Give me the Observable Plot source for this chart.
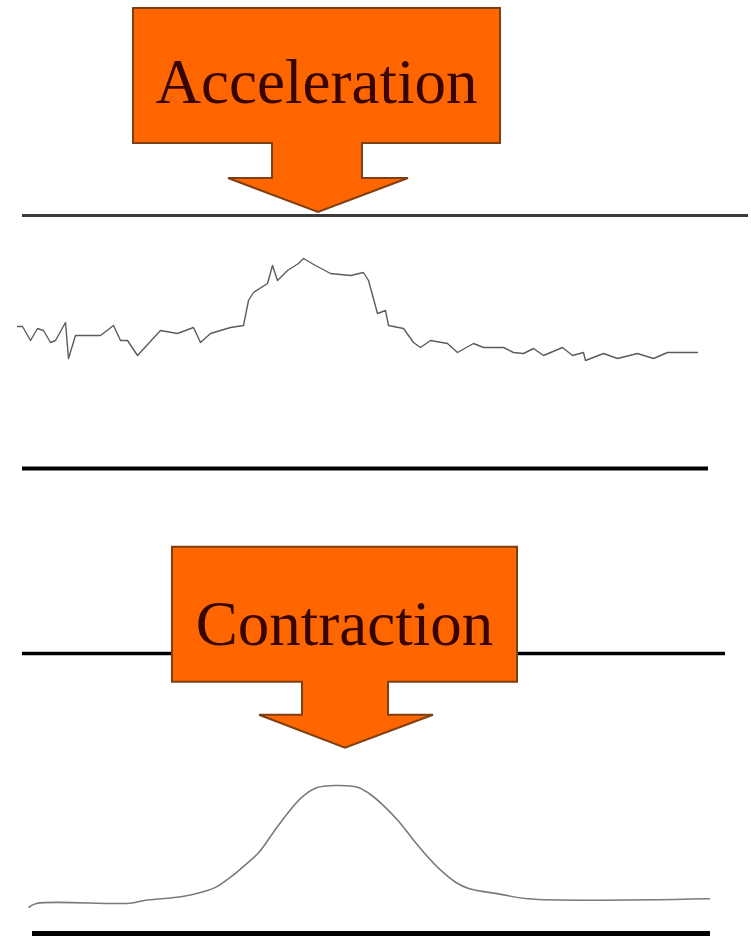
<!DOCTYPE html>
<html>
<head>
<meta charset="utf-8">
<script src="https://cdn.jsdelivr.net/npm/d3@7"></script>
<script src="https://cdn.jsdelivr.net/npm/@observablehq/plot@0.6"></script>
<style>
  html, body { margin: 0; padding: 0; background: #fff; }
  #chart svg { display: block; }
</style>
</head>
<body>
<div id="chart"></div>
<script>
// ---------- data ----------
// Acceleration trace (time in ms, amplitude in arbitrary units)
const accelTime = [0, 10, 26, 40, 52, 66, 76, 96, 102, 116, 166, 192, 206, 220, 240, 262, 286, 320, 352, 366, 386, 426, 452, 462, 472, 500, 510, 520, 540, 562, 572, 596, 626, 666, 692, 702, 720, 736, 742, 772, 792, 806, 826, 860, 880, 912, 932, 972, 992, 1012, 1032, 1052, 1090, 1110, 1132, 1136, 1172, 1200, 1240, 1272, 1300, 1360];
const accelValue = [4.4, 4.4, 3.0, 4.2, 4.0, 2.8, 3.0, 4.8, 1.2, 3.5, 3.5, 4.5, 3.0, 3.0, 1.5, 2.7, 4.0, 3.7, 4.3, 2.8, 3.7, 4.3, 4.5, 7.0, 7.8, 8.7, 10.5, 9.0, 10.0, 10.7, 11.2, 10.5, 9.7, 9.5, 9.8, 9.0, 5.7, 6.0, 4.5, 4.2, 2.8, 2.3, 3.0, 2.7, 1.8, 2.7, 2.3, 2.3, 1.8, 1.7, 2.2, 1.5, 2.3, 1.5, 1.8, 1.0, 1.7, 1.2, 1.7, 1.2, 1.8, 1.8];

// Contraction force trace
const forceTime = [23, 38, 224, 254, 330, 368, 397, 426, 454, 483, 512, 540, 569, 598, 636, 680, 704, 732, 761, 790, 818, 847, 876, 904, 962, 1020, 1384];
const forceValue = [-0.14, 0.17, 0.19, 0.42, 0.75, 1.11, 1.53, 2.36, 3.33, 4.44, 6.11, 7.67, 9.03, 9.81, 10.0, 9.86, 9.31, 8.33, 7.08, 5.56, 4.17, 2.92, 1.94, 1.39, 0.97, 0.56, 0.56];

// Callout labels and the event times they point to
const labels = ["Acceleration", "Contraction"];
const eventTime = [602, 656];
const eventLevel = [15.8, 13.1];

// ---------- styling ----------
const orange = "#ff6600";
const boxStroke = "#7e3f12";
const textFill = "#380600";

function calloutMark(path, t, v) {
  return (index, scales) => {
    const px = scales.x(t), py = scales.y(v);
    const g = d3.create("svg:g");
    g.append("path")
      .attr("d", path)
      .attr("transform", `translate(${px},${py})`)
      .attr("fill", orange)
      .attr("stroke", boxStroke)
      .attr("stroke-width", 2)
      .attr("stroke-linejoin", "miter");
    return g.node();
  };
}

const accelRows = accelTime.map((t, i) => ({t, v: accelValue[i]}));
const forceRows = forceTime.map((t, i) => ({t, v: forceValue[i]}));

const xScale = {domain: [0, 1462], range: [17, 748]};

// ---------- panel A: acceleration ----------
const plotA = Plot.plot({
  width: 751,
  height: 490,
  margin: 0,
  x: {...xScale, axis: null},
  y: {domain: [0, 12], range: [370, 250], axis: null},
  style: {background: "white", overflow: "visible"},
  marks: [
    Plot.ruleY([15.5], {x1: 10, x2: 1462, stroke: "#3a3a3a", strokeWidth: 3}),
    Plot.ruleY([-9.8], {x1: 10, x2: 1382, stroke: "#000", strokeWidth: 4}),
    Plot.line(accelRows, {x: "t", y: "v", stroke: "#5c5c5c", strokeWidth: 1.4}),
    calloutMark("M-185,-204H182V-69H44V-34H90L0,0L-90,-34H-46V-69H-185Z", eventTime[0], eventLevel[0]),
    Plot.text([labels[0]], {
      x: () => eventTime[0], y: () => eventLevel[0], text: d => d,
      dx: -2, dy: -130, fontSize: 63, fontFamily: "Liberation Serif, Times New Roman, serif",
      fill: textFill, textAnchor: "middle"
    })
  ]
});

// ---------- panel B: contraction ----------
const plotB = Plot.plot({
  width: 751,
  height: 447,
  margin: 0,
  x: {...xScale, axis: null},
  y: {domain: [0, 10], range: [415, 295], axis: null},
  style: {background: "white", overflow: "visible"},
  marks: [
    Plot.ruleY([21], {x1: 10, x2: 1416, stroke: "#000", strokeWidth: 3.5}),
    Plot.ruleY([-2.33], {x1: 30, x2: 1386, stroke: "#000", strokeWidth: 5}),
    Plot.line(forceRows, {x: "t", y: "v", stroke: "#7a7a7a", strokeWidth: 1.6, curve: "catmull-rom"}),
    calloutMark("M-173,-201H172V-66H43V-33H88L0,0L-86,-33H-43V-66H-173Z", eventTime[1], eventLevel[1]),
    Plot.text([labels[1]], {
      x: () => eventTime[1], y: () => eventLevel[1], text: d => d,
      dx: -1, dy: -123, fontSize: 63, fontFamily: "Liberation Serif, Times New Roman, serif",
      fill: textFill, textAnchor: "middle"
    })
  ]
});

const chart = document.getElementById("chart");
chart.appendChild(plotA);
chart.appendChild(plotB);
</script>
</body>
</html>
